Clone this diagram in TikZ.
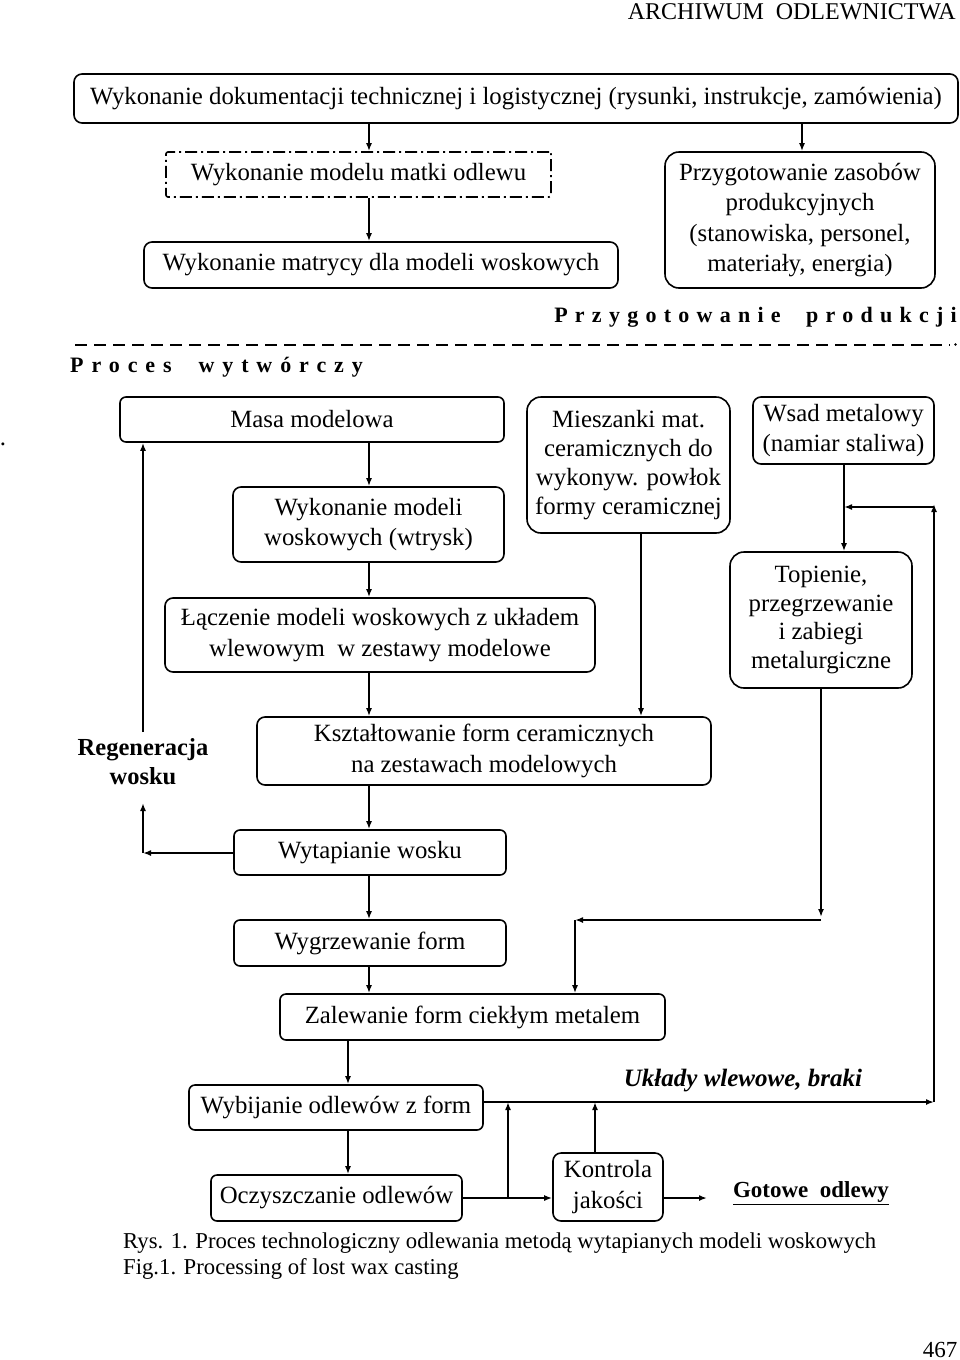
\documentclass[tikz,border=0pt]{standalone}
\usepackage{fontspec}
\setmainfont{Liberation Serif}
\usetikzlibrary{arrows.meta}
\newcommand{\bigtxt}{\fontsize{24.8}{30.5}\selectfont}
\begin{document}
\begin{tikzpicture}[x=1pt,y=-1pt,
  box/.style={draw, line width=1.6pt, rounded corners=8pt, inner sep=0pt, align=center, font=\bigtxt},
  arr/.style={line width=1.6pt, -{Latex[length=8pt,width=6pt]}},
  lbl/.style={inner sep=0pt, align=center, font=\bigtxt}]
\useasboundingbox (0,0) rectangle (960,1360);
% header and page number
\node[lbl, anchor=east, font=\fontsize{24}{28}\selectfont] (hdr) at (956,12) {ARCHIWUM\ \ ODLEWNICTWA};
\node[lbl, font=\fontsize{23}{28}\selectfont] (pg) at (940,1350) {467};
\node[lbl] (dot) at (3,444) {.};
% top part
\node[box, minimum width=884pt, minimum height=49pt] (top) at (516,98.5) {Wykonanie dokumentacji technicznej i logistycznej (rysunki, instrukcje, zamówienia)};
\node[box, rounded corners=2pt, dash pattern=on 12pt off 4pt on 2pt off 4pt, minimum width=385pt, minimum height=45pt] (matka) at (358.5,174.5) {Wykonanie modelu matki odlewu};
\node[box, minimum width=474pt, minimum height=46pt] (matryca) at (381,265) {Wykonanie matrycy dla modeli woskowych};
\node[box, rounded corners=14pt, minimum width=270pt, minimum height=136pt] (zasoby) at (800,220) {Przygotowanie zasobów\\produkcyjnych\\(stanowiska, personel,\\materiały, energia)};
% section labels
\node[lbl, anchor=east, font=\fontsize{22}{25}\selectfont\bfseries\addfontfeature{LetterSpace=33}] (przyg) at (957,317) {Przygotowanie\ \ produkcji};
\draw[line width=2.6pt, dash pattern=on 12pt off 7pt] (75,345) -- (950,345);
\fill (955.5,344.5) circle (1.3pt);
\node[lbl, anchor=west, font=\fontsize{22}{25}\selectfont\bfseries\addfontfeature{LetterSpace=36}] (proces) at (70,367) {Proces\ \ wytwórczy};
% process boxes
\node[box, rounded corners=6pt, minimum width=384pt, minimum height=45pt] (masa) at (312,419.5) {Masa modelowa};
\node[box, minimum width=271pt, minimum height=75pt] (wtrysk) at (368.5,524.5) {Wykonanie modeli\\woskowych (wtrysk)};
\node[box, minimum width=430pt, minimum height=74pt] (laczenie) at (380,635) {Łączenie modeli woskowych z układem\\wlewowym\ \ w zestawy modelowe};
\node[box, rounded corners=14pt, minimum width=203pt, minimum height=136pt, font=\fontsize{24.8}{29}\selectfont] (mieszanki) at (628.5,465) {Mieszanki mat.\\ceramicznych do\\wykonyw. powłok\\formy ceramicznej};
\node[box, minimum width=181pt, minimum height=67pt] (wsad) at (843.5,430.5) {Wsad metalowy\\(namiar staliwa)};
\node[box, rounded corners=14pt, minimum width=182pt, minimum height=136pt, font=\fontsize{24.8}{28.5}\selectfont] (topienie) at (821,620) {Topienie,\\przegrzewanie\\i zabiegi\\metalurgiczne};
\node[box, minimum width=454pt, minimum height=68pt] (ksztalt) at (484,751) {Kształtowanie form ceramicznych\\na zestawach modelowych};
\node[box, rounded corners=6pt, minimum width=272pt, minimum height=45pt] (wytap) at (370,852.5) {Wytapianie wosku};
\node[box, rounded corners=6pt, minimum width=272pt, minimum height=46pt] (wygrz) at (370,943) {Wygrzewanie form};
\node[box, rounded corners=6pt, minimum width=385pt, minimum height=46pt] (zalew) at (472.5,1017) {Zalewanie form ciekłym metalem};
\node[box, rounded corners=6pt, minimum width=294pt, minimum height=45pt] (wybij) at (336,1107.5) {Wybijanie odlewów z form};
\node[box, rounded corners=6pt, minimum width=251pt, minimum height=46pt] (oczysz) at (336.5,1198) {Oczyszczanie\ odlewów};
\node[box, minimum width=110pt, minimum height=68pt] (kontrola) at (608,1187) {Kontrola\\jakości};
% free labels
\node[lbl, font=\fontsize{24.5}{29}\selectfont\bfseries] (regen) at (143,762) {Regeneracja\\wosku};
\node[lbl, font=\fontsize{25}{28}\selectfont\bfseries\itshape] (uklady) at (743,1081) {Układy wlewowe, braki};
\node[lbl, font=\fontsize{23}{26}\selectfont\bfseries] (gotowe) at (811,1193) {\underline{Gotowe\ \ odlewy}};
\node[lbl, anchor=west, font=\fontsize{22.7}{26}\selectfont] (cap1) at (123,1243) {Rys. 1. Proces technologiczny\ odlewania metodą wytapianych modeli woskowych};
\node[lbl, anchor=west, font=\fontsize{22.7}{26}\selectfont] (cap2) at (123,1269) {Fig.1. Processing of lost wax casting};
% helper coordinates
\coordinate (xa) at (369,0);
\coordinate (xb) at (802,0);
\coordinate (xc) at (641,0);
\coordinate (xd) at (844,0);
\coordinate (xe) at (821,0);
\coordinate (xf) at (348,0);
\coordinate (xg) at (595,0);
\coordinate (xr) at (143,0);
\coordinate (rc1) at (934,1102);
\coordinate (rc2) at (934,507);
\coordinate (rc3) at (844,507);
\coordinate (tc1) at (821,917);
\coordinate (tc2) at (821,920);
\coordinate (tc3) at (575,920);
\coordinate (wc1) at (143,853);
\coordinate (wc2) at (143,803);
\coordinate (wc3) at (143,732);
\coordinate (oc1) at (508,1198);
\coordinate (oc2) at (508,1102);
\coordinate (kc1) at (595,1102);
\coordinate (gc) at (707,1198);
% connectors
\draw[arr] (top.south -| xa) -- (matka.north -| xa);
\draw[arr] (top.south -| xb) -- (zasoby.north -| xb);
\draw[arr] (matka.south -| xa) -- (matryca.north -| xa);
\draw[arr] (masa.south -| xa) -- (wtrysk.north -| xa);
\draw[arr] (wtrysk.south -| xa) -- (laczenie.north -| xa);
\draw[arr] (laczenie.south -| xa) -- (ksztalt.north -| xa);
\draw[arr] (mieszanki.south -| xc) -- (ksztalt.north -| xc);
\draw[arr] (wsad.south -| xd) -- (topienie.north -| xd);
\draw[arr] (ksztalt.south -| xa) -- (wytap.north -| xa);
\draw[arr] (wytap.south -| xa) -- (wygrz.north -| xa);
\draw[arr] (wygrz.south -| xa) -- (zalew.north -| xa);
% metal loop
\draw[arr] (topienie.south -| xe) -- (tc1);
\draw[arr] (tc2) -- (tc3);
\draw[arr] (tc3) -- (zalew.north -| tc3);
% wax regeneration
\draw[arr] (wytap.west |- wc1) -- (wc1);
\draw[arr] (wc1) -- (wc2);
\draw[arr] (wc3) -- (masa.south -| xr);
% bottom
\draw[arr] (zalew.south -| xf) -- (wybij.north -| xf);
\draw[arr] (wybij.south -| xf) -- (oczysz.north -| xf);
\draw[arr] (wybij.east |- rc1) -- (rc1);
\draw[arr] (rc1) -- ([yshift=3pt]rc2);
\draw[arr] (rc2) -- (rc3);
\draw[arr] (oczysz.east |- oc1) -- (kontrola.west |- oc1);
\draw[arr] (oc1) -- (oc2);
\draw[arr] (kontrola.north -| xg) -- (kc1);
\draw[arr] (kontrola.east |- gc) -- (gc);
\end{tikzpicture}
\end{document}
